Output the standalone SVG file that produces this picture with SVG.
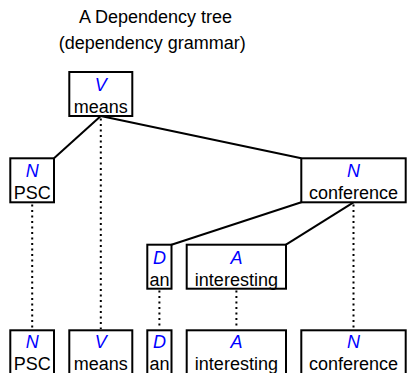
<svg xmlns="http://www.w3.org/2000/svg" width="407" height="373" viewBox="0 0 407 373">
<style>
text{font-family:"Liberation Sans",Arial,sans-serif;font-size:18px;text-anchor:middle;fill:#000}
.cat{fill:#0000ff;font-style:italic}
.box{fill:#fff;stroke:#000;stroke-width:2}
.edge{stroke:#000;stroke-width:2;fill:none}
.proj{stroke:#000;stroke-width:2;fill:none;stroke-dasharray:2 3.5}
</style>
<rect width="407" height="373" fill="#fff"/>
<g id="title">
<text x="155.5" y="23">A Dependency tree</text>
<text x="152.2" y="49">(dependency grammar)</text>
</g>
<g id="connectors">
<line class="proj" x1="32.2" y1="204.5" x2="32.2" y2="329"/>
<line class="proj" x1="100.8" y1="118.5" x2="100.8" y2="329"/>
<line class="proj" x1="159.4" y1="290.5" x2="159.4" y2="329"/>
<line class="proj" x1="236.4" y1="290.5" x2="236.4" y2="329"/>
<line class="proj" x1="353.5" y1="204.5" x2="353.5" y2="329"/>
<line class="edge" x1="100.8" y1="116" x2="54" y2="158.3"/>
<line class="edge" x1="100.8" y1="116" x2="301.3" y2="158.3"/>
<line class="edge" x1="301.3" y1="202.3" x2="171.5" y2="244.7"/>
<line class="edge" x1="353.5" y1="202.3" x2="286" y2="244.7"/>
</g>
<g id="n-means">
<rect class="box" x="69.3" y="72" width="63" height="44"/>
<text class="cat" x="100.8" y="90.5">V</text>
<text x="100.8" y="113">means</text>
</g>
<g id="n-psc">
<rect class="box" x="10.3" y="158.3" width="43.7" height="44"/>
<text class="cat" x="32.2" y="176.8">N</text>
<text x="32.2" y="199">PSC</text>
</g>
<g id="n-conference">
<rect class="box" x="301.3" y="158.3" width="104.4" height="44"/>
<text class="cat" x="353.5" y="176.8">N</text>
<text x="353.5" y="199">conference</text>
</g>
<g id="n-an">
<rect class="box" x="147.3" y="244.7" width="24.2" height="44"/>
<text class="cat" x="159.4" y="263.5">D</text>
<text x="159.4" y="286">an</text>
</g>
<g id="n-interesting">
<rect class="box" x="186.7" y="244.7" width="99.3" height="44"/>
<text class="cat" x="236.4" y="263.5">A</text>
<text x="236.4" y="286">interesting</text>
</g>
<g id="w-psc">
<rect class="box" x="10.3" y="330.3" width="43.7" height="44"/>
<text class="cat" x="32.2" y="347.5">N</text>
<text x="32.2" y="369.5">PSC</text>
</g>
<g id="w-means">
<rect class="box" x="69.3" y="330.3" width="63" height="44"/>
<text class="cat" x="100.8" y="347.5">V</text>
<text x="100.8" y="369.5">means</text>
</g>
<g id="w-an">
<rect class="box" x="147.3" y="330.3" width="24.2" height="44"/>
<text class="cat" x="159.4" y="347.5">D</text>
<text x="159.4" y="369.5">an</text>
</g>
<g id="w-interesting">
<rect class="box" x="186.7" y="330.3" width="99.3" height="44"/>
<text class="cat" x="236.4" y="347.5">A</text>
<text x="236.4" y="369.5">interesting</text>
</g>
<g id="w-conference">
<rect class="box" x="301.3" y="330.3" width="104.4" height="44"/>
<text class="cat" x="353.5" y="347.5">N</text>
<text x="353.5" y="369.5">conference</text>
</g>
</svg>
